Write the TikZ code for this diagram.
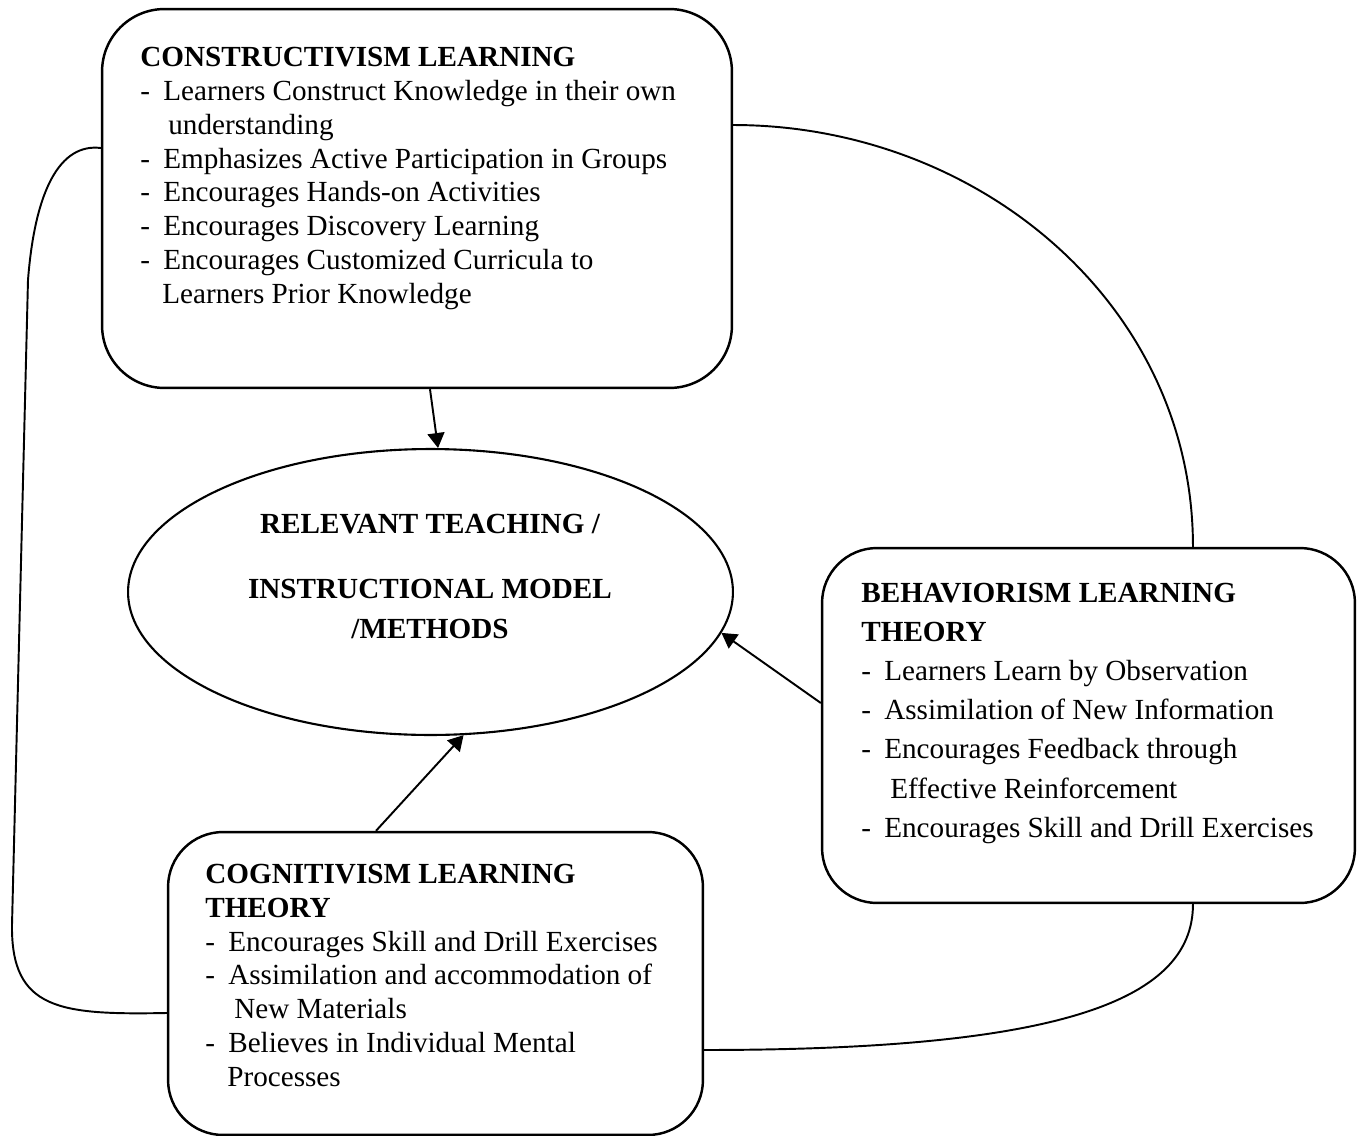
\documentclass[tikz,border=0pt]{standalone}
\usepackage{fontspec}
\setmainfont{Liberation Serif}
\usetikzlibrary{shapes,arrows.meta,positioning}

\newcommand{\dashitem}{\makebox[0.46cm][l]{-}}

\tikzset{
  theorybox/.style={rectangle, draw, line width=1.4pt, rounded corners=1.1cm, inner sep=0pt},
  boxtext/.style={anchor=base west, align=left, inner sep=0pt, font=\fontsize{16.6}{19.2}\selectfont},
  arr/.style={-{Triangle[length=0.3cm,width=0.34cm]}, line width=1.1pt},
  link/.style={line width=1.1pt}
}

\begin{document}
\begin{tikzpicture}[x=0.02cm, y=-0.02cm]
\useasboundingbox (0,0) rectangle (1357,1136);

% boxes and model
\node[theorybox, rounded corners=1.25cm, minimum width=12.6cm, minimum height=7.58cm] (constr) at (417,198.5) {};
\node[theorybox, minimum width=10.66cm, minimum height=7.1cm] (behav) at (1088.5,725.5) {};
\node[theorybox, minimum width=10.7cm, minimum height=6.06cm] (cogn) at (435.5,983.5) {};
\node[ellipse, draw, line width=1.2pt, inner sep=0pt, minimum width=12.1cm, minimum height=5.72cm] (model) at (430.5,592) {};

% texts (anchored on the baseline of the last line)
\node[boxtext] (constrtxt) at (140,303) {\textbf{CONSTRUCTIVISM LEARNING}\\
  \dashitem Learners Construct Knowledge in their own\\
  \hspace*{0.56cm}understanding\\
  \dashitem Emphasizes Active Participation in Groups\\
  \dashitem Encourages Hands-on Activities\\
  \dashitem Encourages Discovery Learning\\
  \dashitem Encourages Customized Curricula to\\
  \hspace*{0.44cm}Learners Prior Knowledge};
\node[boxtext, font=\fontsize{16.6}{22.2}\selectfont] (behavtxt) at (861,837) {\textbf{BEHAVIORISM LEARNING}\\
  \textbf{THEORY}\\
  \dashitem Learners Learn by Observation\\
  \dashitem Assimilation of New Information\\
  \dashitem Encourages Feedback through\\
  \hspace*{0.58cm}Effective Reinforcement\\
  \dashitem Encourages Skill and Drill Exercises};
\node[boxtext] (cogntxt) at (205,1086) {\textbf{COGNITIVISM LEARNING}\\
  \textbf{THEORY}\\
  \dashitem Encourages Skill and Drill Exercises\\
  \dashitem Assimilation and accommodation of\\
  \hspace*{0.58cm}New Materials\\
  \dashitem Believes in Individual Mental\\
  \hspace*{0.44cm}Processes};
\node[anchor=base, align=center, inner sep=0pt, font=\fontsize{16.6}{22.7}\selectfont\bfseries] (modeltxt) at (430,638) {RELEVANT TEACHING /\\[0.5cm]
  INSTRUCTIONAL MODEL\\
  /METHODS};

% arrows into the model
\draw[arr] ([xshift=0.26cm]constr.south) -- (model.87);
\draw[arr] ([yshift=0.45cm]behav.west) -- (model.-8);
\draw[arr] ([xshift=-1.19cm]cogn.north) -- (model.-77);

% links between the theories
\draw[link] ([yshift=1.47cm]constr.east) to[out=0,in=90] ([xshift=2.09cm]behav.north);
\draw[link] ([xshift=2.09cm]behav.south) to[out=-90,in=0,out distance=2cm,in distance=6.9cm] ([yshift=-1.33cm]cogn.east);
\draw[link] ([yshift=1.01cm]constr.west) .. controls (60,143) and (35,190) .. (28,280) -- (12,925)
  .. controls (11,1010) and (60,1015) .. ([yshift=-0.59cm]cogn.west);
\end{tikzpicture}
\end{document}
